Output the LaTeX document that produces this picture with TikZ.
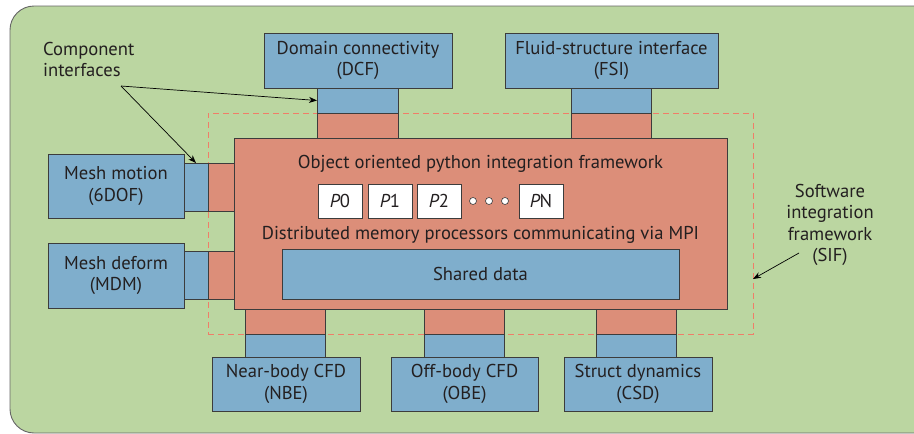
\documentclass[tikz,border=0pt]{standalone}
\usepackage{fontspec}
\setmainfont{PT Sans}
\usetikzlibrary{arrows.meta}
\definecolor{bggreen}{RGB}{187,214,161}
\definecolor{boxblue}{RGB}{127,174,204}
\definecolor{boxred}{RGB}{220,142,121}
\definecolor{edgegray}{RGB}{60,60,60}
\definecolor{dashred}{RGB}{240,125,105}
\definecolor{txt}{RGB}{35,31,32}
\begin{document}
\begin{tikzpicture}[x=1pt,y=-1pt,
  every node/.style={text=txt,font=\fontsize{18.6}{21.5}\selectfont},
  bx/.style={draw=edgegray,line width=0.9pt,inner sep=0pt,outer sep=0pt,align=center},
  bluebox/.style={bx,fill=boxblue},
  redbox/.style={bx,fill=boxred},
  pbox/.style={bx,fill=white,minimum width=44,minimum height=34},
  lbl/.style={align=center,inner sep=0pt},
  pointer/.style={draw=black,line width=0.7pt,-{Stealth[length=8pt,width=6pt]}}
]
\useasboundingbox (0,0) rectangle (914,434);
% background
\fill[white] (0,0) rectangle (914,434);
\draw[fill=bggreen,draw=gray!80!black,line width=0.9pt,rounded corners=24pt] (10,6) rectangle (940,433);
% dashed SIF frame
\node[draw=dashred,dash pattern=on 6pt off 4pt,line width=1pt,inner sep=0,outer sep=0,minimum width=545,minimum height=221] (sif) at (480.5,223.5) {};
% top components
\node[bluebox,minimum width=188,minimum height=55] (dcf) at (358,60.5) {Domain connectivity\\(DCF)};
\node[bluebox,minimum width=213,minimum height=55] (fsi) at (611.5,60.5) {Fluid-structure interface\\(FSI)};
\node[bluebox,minimum width=81,minimum height=25] (dcfb) at (357.5,100.5) {};
\node[redbox,minimum width=81,minimum height=25] (dcfr) at (357.5,125.5) {};
\node[bluebox,minimum width=80,minimum height=25] (fsib) at (611,100.5) {};
\node[redbox,minimum width=80,minimum height=25] (fsir) at (611,125.5) {};
% left components
\node[bluebox,minimum width=136,minimum height=64] (mm) at (116,186) {Mesh motion\\(6DOF)};
\node[bluebox,minimum width=24,minimum height=48] (mmb) at (196,187) {};
\node[redbox,minimum width=26,minimum height=48] (mmr) at (221,187) {};
\node[bluebox,minimum width=136,minimum height=65] (md) at (116,275.5) {Mesh deform\\(MDM)};
\node[bluebox,minimum width=24,minimum height=48] (mdb) at (196,275) {};
\node[redbox,minimum width=26,minimum height=48] (mdr) at (221,275) {};
% bottom components
\node[redbox,minimum width=80,minimum height=25] (nber) at (285,321.5) {};
\node[bluebox,minimum width=80,minimum height=23] (nbeb) at (285,345.5) {};
\node[bluebox,minimum width=148,minimum height=54] (nbe) at (286,384) {Near-body CFD\\(NBE)};
\node[redbox,minimum width=80,minimum height=25] (ober) at (464,321.5) {};
\node[bluebox,minimum width=80,minimum height=23] (obeb) at (464,345.5) {};
\node[bluebox,minimum width=147,minimum height=54] (obe) at (464.5,384) {Off-body CFD\\(OBE)};
\node[redbox,minimum width=80,minimum height=25] (csdr) at (636,321.5) {};
\node[bluebox,minimum width=80,minimum height=23] (csdb) at (636,345.5) {};
\node[bluebox,minimum width=148,minimum height=54] (csd) at (638,384) {Struct dynamics\\(CSD)};
% main framework
\node[redbox,minimum width=493,minimum height=171] (main) at (480.5,223.5) {};
\node[lbl] (title) at (480.5,164) {Object oriented python integration framework};
\node[pbox] (p0) at (340,201) {\itshape P\upshape 0};
\node[pbox] (p1) at (390,201) {\itshape P\upshape 1};
\node[pbox] (p2) at (439,201) {\itshape P\upshape 2};
\node[pbox] (pn) at (541,201) {\itshape P\upshape N};
\foreach \x/\n in {473/d1,489/d2,505/d3}
  \node[circle,draw=edgegray,fill=white,line width=0.6pt,inner sep=0pt,minimum size=7pt] (\n) at (\x,201) {};
\node[lbl] (mpi) at (480.5,235) {Distributed memory processors communicating via MPI};
\node[bluebox,minimum width=397,minimum height=50] (shared) at (480.5,274) {Shared data};
% annotations
\node[lbl,align=left,anchor=north west] (cilabel) at (43,42) {Component\\interfaces};
\coordinate (ci) at (121,86);
\draw[pointer] (ci) -- (dcfb.west);
\draw[pointer] (ci) -- (mmb.north);
\node[lbl,text width=110] (siflabel) at (830,225) {Software\\integration\\framework\\(SIF)};
\coordinate (sifsrc) at (799,253);
\coordinate (sifdst) at (sif.east |- 0,279);
\draw[pointer] (sifsrc) -- (sifdst);
\end{tikzpicture}
\end{document}
